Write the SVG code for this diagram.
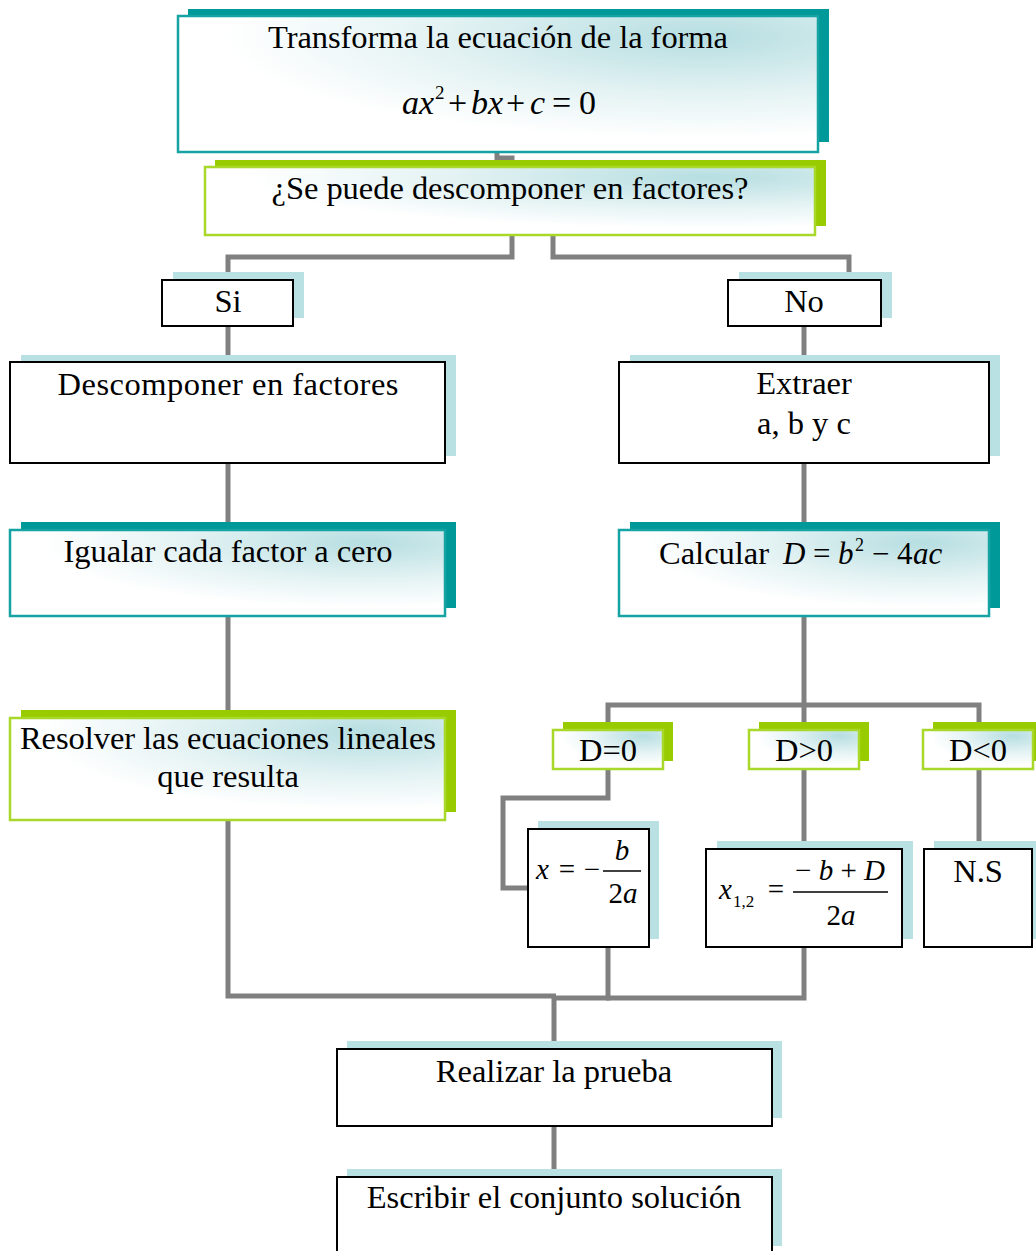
<svg xmlns="http://www.w3.org/2000/svg" width="1036" height="1251" viewBox="0 0 1036 1251">
<defs>
<radialGradient id="g" cx="0.82" cy="0.15" r="0.75" fx="0.82" fy="0.15">
<stop offset="0" stop-color="#b6dee1"/>
<stop offset="0.55" stop-color="#e3f2f3"/>
<stop offset="1" stop-color="#ffffff"/>
</radialGradient>
<style>
.conn{fill:none;stroke:#808080;stroke-width:5}
.shb{fill:#b9e0e3}
.sht{fill:#009999}
.shg{fill:#99cc00}
.bp{fill:#fff;stroke:#000;stroke-width:2}
.bt{fill:url(#g);stroke:#16a3a3;stroke-width:2.5}
.bg{fill:url(#g);stroke:#a8d82a;stroke-width:2.5}
.t{font-family:"Liberation Serif","Times New Roman",serif;font-size:32.5px;fill:#000;text-anchor:middle}
.s{font-family:"Liberation Serif","Times New Roman",serif;fill:#000}
.i{font-style:italic}
</style>
</defs>
<g id="connectors">
<polyline class="conn" points="497,150 497,158 512,158 512,168"/>
<polyline class="conn" points="512,233 512,257 228,257 228,282"/>
<polyline class="conn" points="553,233 553,257 849,257 849,274"/>
<line class="conn" x1="228" y1="326" x2="228" y2="362"/>
<line class="conn" x1="804" y1="326" x2="804" y2="362"/>
<line class="conn" x1="228" y1="463" x2="228" y2="530"/>
<line class="conn" x1="804" y1="463" x2="804" y2="530"/>
<line class="conn" x1="228" y1="616" x2="228" y2="718"/>
<line class="conn" x1="804" y1="616" x2="804" y2="705"/>
<polyline class="conn" points="608,730 608,705 979,705 979,730"/>
<line class="conn" x1="804" y1="705" x2="804" y2="730"/>
<polyline class="conn" points="608,769 608,798 503,798 503,888 528,888"/>
<line class="conn" x1="804" y1="769" x2="804" y2="849"/>
<line class="conn" x1="979" y1="769" x2="979" y2="849"/>
<polyline class="conn" points="228,820 228,996 556,996"/>
<polyline class="conn" points="608,947 608,998 553,998"/>
<polyline class="conn" points="804,947 804,998 606,998"/>
<line class="conn" x1="554" y1="996" x2="554" y2="1049"/>
<line class="conn" x1="554" y1="1126" x2="554" y2="1177"/>
</g>
<g id="n-transforma">
<rect class="sht" x="188" y="9" width="641" height="133"/>
<rect class="bt" x="178" y="16" width="640" height="136"/>
<text class="t" x="498" y="48" textLength="460" lengthAdjust="spacing">Transforma la ecuación de la forma</text>
<text class="s i" x="402" y="114" font-size="34">ax</text>
<text class="s" x="435" y="99" font-size="19">2</text>
<text class="s" x="448" y="114" font-size="34">+</text>
<text class="s i" x="471" y="114" font-size="34">bx</text>
<text class="s" x="506" y="114" font-size="34">+</text>
<text class="s i" x="530" y="114" font-size="34">c</text>
<text class="s" x="552" y="114" font-size="34">=</text>
<text class="s" x="579" y="114" font-size="34">0</text>
</g>
<g id="n-pregunta">
<rect class="shg" x="215" y="160" width="611" height="66"/>
<rect class="bg" x="205" y="167" width="610" height="68"/>
<text class="t" x="510" y="199" textLength="477" lengthAdjust="spacing">¿Se puede descomponer en factores?</text>
</g>
<g id="n-si">
<rect class="shb" x="173" y="272" width="131" height="46"/>
<rect class="bp" x="162" y="280" width="131" height="46"/>
<text class="t" x="228" y="312">Si</text>
</g>
<g id="n-no">
<rect class="shb" x="739" y="272" width="153" height="46"/>
<rect class="bp" x="728" y="280" width="153" height="46"/>
<text class="t" x="804" y="312">No</text>
</g>
<g id="n-descomponer">
<rect class="shb" x="21" y="355" width="435" height="101"/>
<rect class="bp" x="10" y="362" width="435" height="101"/>
<text class="t" x="228" y="395" textLength="341" lengthAdjust="spacing">Descomponer en factores</text>
</g>
<g id="n-extraer">
<rect class="shb" x="630" y="355" width="370" height="101"/>
<rect class="bp" x="619" y="362" width="370" height="101"/>
<text class="t" x="804" y="394">Extraer</text>
<text class="t" x="804" y="434">a, b y c</text>
</g>
<g id="n-igualar">
<rect class="sht" x="21" y="522" width="435" height="86"/>
<rect class="bt" x="10" y="530" width="435" height="86"/>
<text class="t" x="228" y="562" textLength="329" lengthAdjust="spacing">Igualar cada factor a cero</text>
</g>
<g id="n-calcular">
<rect class="sht" x="630" y="522" width="370" height="86"/>
<rect class="bt" x="619" y="530" width="370" height="86"/>
<text class="s" x="659" y="564" font-size="32.5">Calcular</text>
<text class="s i" x="783" y="564" font-size="31">D</text>
<text class="s" x="813" y="564" font-size="31">=</text>
<text class="s i" x="838" y="564" font-size="31">b</text>
<text class="s" x="855" y="551" font-size="18">2</text>
<text class="s" x="872" y="564" font-size="31">−</text>
<text class="s" x="897" y="564" font-size="31">4</text>
<text class="s i" x="913" y="564" font-size="31">ac</text>
</g>
<g id="n-resolver">
<rect class="shg" x="21" y="710" width="435" height="102"/>
<rect class="bg" x="10" y="718" width="435" height="102"/>
<text class="t" x="228" y="749" textLength="416" lengthAdjust="spacing">Resolver las ecuaciones lineales</text>
<text class="t" x="228" y="787">que resulta</text>
</g>
<g id="n-d0">
<rect class="shg" x="563" y="722" width="110" height="39"/>
<rect class="bg" x="553" y="730" width="110" height="39"/>
<text class="t" x="608" y="761">D=0</text>
</g>
<g id="n-dpos">
<rect class="shg" x="759" y="722" width="110" height="39"/>
<rect class="bg" x="749" y="730" width="110" height="39"/>
<text class="t" x="804" y="761">D&gt;0</text>
</g>
<g id="n-dneg">
<rect class="shg" x="933" y="722" width="110" height="39"/>
<rect class="bg" x="923" y="730" width="110" height="39"/>
<text class="t" x="978" y="761">D&lt;0</text>
</g>
<g id="n-x0">
<rect class="shb" x="538" y="821" width="121" height="118"/>
<rect class="bp" x="528" y="829" width="121" height="118"/>
<text class="s i" x="536" y="879" font-size="29">x</text>
<text class="s" x="567" y="879" font-size="29" text-anchor="middle">=</text>
<text class="s" x="592" y="879" font-size="29" text-anchor="middle">−</text>
<line x1="603" y1="871" x2="641" y2="871" stroke="#000" stroke-width="1.3"/>
<text class="s i" x="622" y="860" font-size="29" text-anchor="middle">b</text>
<text class="s" x="623" y="903" font-size="29" text-anchor="middle">2<tspan class="i">a</tspan></text>
</g>
<g id="n-x12">
<rect class="shb" x="717" y="841" width="196" height="98"/>
<rect class="bp" x="706" y="849" width="196" height="98"/>
<text class="s i" x="719" y="899" font-size="29">x</text>
<text class="s" x="733" y="907" font-size="17">1,2</text>
<text class="s" x="776" y="899" font-size="29" text-anchor="middle">=</text>
<line x1="793" y1="892" x2="888" y2="892" stroke="#000" stroke-width="1.3"/>
<text class="s" x="840" y="880" font-size="29" text-anchor="middle">− <tspan class="i">b</tspan> + <tspan class="i">D</tspan></text>
<text class="s" x="841" y="925" font-size="29" text-anchor="middle">2<tspan class="i">a</tspan></text>
</g>
<g id="n-ns">
<rect class="shb" x="934" y="841" width="110" height="98"/>
<rect class="bp" x="924" y="849" width="108" height="98"/>
<text class="t" x="978" y="882">N.S</text>
</g>
<g id="n-realizar">
<rect class="shb" x="347" y="1041" width="435" height="77"/>
<rect class="bp" x="337" y="1049" width="435" height="77"/>
<text class="t" x="554" y="1082">Realizar la prueba</text>
</g>
<g id="n-escribir">
<rect class="shb" x="347" y="1169" width="435" height="77"/>
<rect class="bp" x="337" y="1177" width="435" height="80"/>
<text class="t" x="554" y="1208">Escribir el conjunto solución</text>
</g>
</svg>
